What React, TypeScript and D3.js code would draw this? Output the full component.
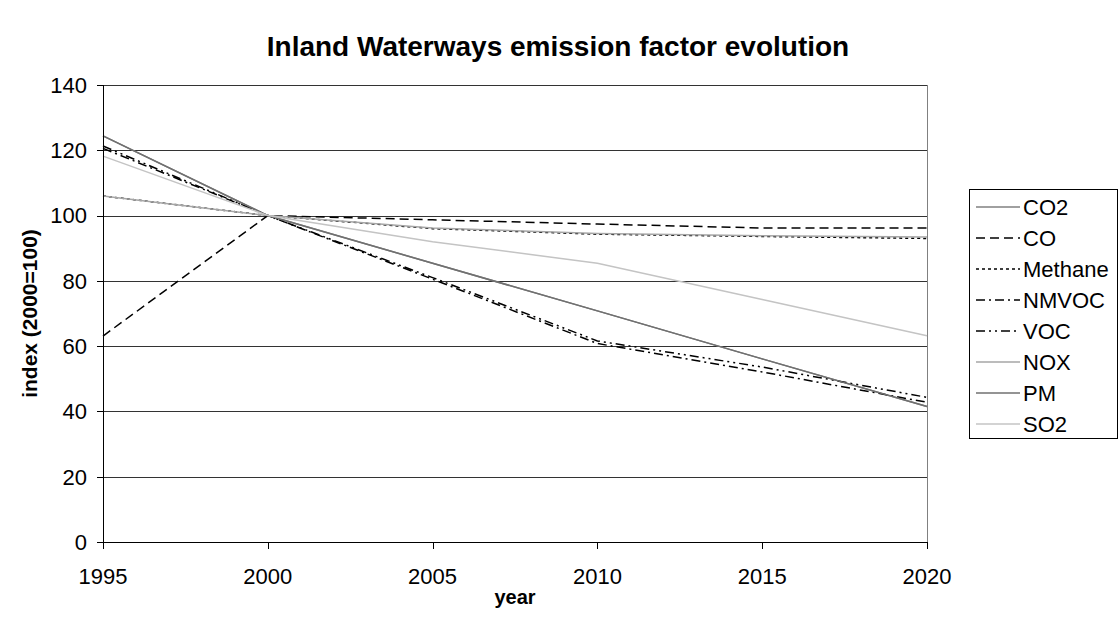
import React from "react";
import * as d3 from "d3";

// Emission factor index per pollutant, 2000 = 100
const years = [1995, 2000, 2005, 2010, 2015, 2020];
const co2 = [124.4, 100, 85.4, 70.8, 56.1, 41.5];
const co = [63.1, 100, 98.7, 97.4, 96.2, 96.2];
const methane = [106, 100, 96, 94.3, 93.6, 93.0];
const nmvoc = [120.6, 100, 80.5, 60.8, 52.1, 42.8];
const voc = [121.3, 100, 81, 61.6, 53.6, 44.3];
const nox = [106, 100, 96.2, 94.5, 93.8, 93.4];
const pm = [124.4, 100, 85.4, 70.8, 56.1, 41.5];
const so2 = [118.2, 100, 92, 85.4, 74.3, 63.2];

const seriesNames = ["CO2", "CO", "Methane", "NMVOC", "VOC", "NOX", "PM", "SO2"];
const seriesValues = [co2, co, methane, nmvoc, voc, nox, pm, so2];
const yTicks = [0, 20, 40, 60, 80, 100, 120, 140];

const styles = [
  { stroke: "#808080", dash: "" },
  { stroke: "#000000", dash: "9,5" },
  { stroke: "#000000", dash: "3,3" },
  { stroke: "#000000", dash: "9,4,2,4" },
  { stroke: "#000000", dash: "9,4,2,4,2,4" },
  { stroke: "#a6a6a6", dash: "" },
  { stroke: "#707070", dash: "" },
  { stroke: "#c4c4c4", dash: "" },
];

const W = 1118;
const H = 626;
const plot = { left: 103, right: 927, top: 85, bottom: 542 };
const font = "'Liberation Sans', Arial, sans-serif";

export default function App() {
  const x = d3.scaleLinear().domain([1995, 2020]).range([plot.left, plot.right]);
  const y = d3.scaleLinear().domain([0, 140]).range([plot.bottom, plot.top]);
  const line = d3
    .line<number>()
    .x((_, i) => x(years[i]))
    .y((d) => y(d));

  const legend = { x: 969, y: 189, w: 148, h: 249, row: 31 };

  return (
    <svg
      width={W}
      height={H}
      style={{ position: "absolute", left: 0, top: 0, background: "#fff" }}
      fontFamily={font}
    >
      <rect x={0} y={0} width={W} height={H} fill="#fff" />
      <text x={558} y={56} textAnchor="middle" fontSize={28} fontWeight="bold">
        Inland Waterways emission factor evolution
      </text>

      {/* gridlines */}
      {yTicks.map((t) => (
        <line
          key={t}
          x1={plot.left}
          x2={plot.right}
          y1={Math.round(y(t)) + 0.5}
          y2={Math.round(y(t)) + 0.5}
          stroke="#333"
          strokeWidth={1}
        />
      ))}
      <line
        x1={plot.right + 0.5}
        x2={plot.right + 0.5}
        y1={plot.top}
        y2={plot.bottom}
        stroke="#808080"
      />

      {/* series */}
      {seriesValues.map((vals, i) => (
        <path
          key={seriesNames[i]}
          d={line(vals) || ""}
          fill="none"
          stroke={styles[i].stroke}
          strokeWidth={1.5}
          strokeDasharray={styles[i].dash || undefined}
        />
      ))}

      {/* axes */}
      <line x1={plot.left + 0.5} x2={plot.left + 0.5} y1={plot.top} y2={plot.bottom + 6} stroke="#000" />
      <line x1={plot.left - 6} x2={plot.right} y1={Math.round(y(0)) + 0.5} y2={Math.round(y(0)) + 0.5} stroke="#000" />
      {yTicks.map((t) => (
        <g key={"yt" + t}>
          <line
            x1={plot.left - 6}
            x2={plot.left}
            y1={Math.round(y(t)) + 0.5}
            y2={Math.round(y(t)) + 0.5}
            stroke="#000"
          />
          <text x={87} y={y(t)} dy="0.36em" textAnchor="end" fontSize={22}>
            {t}
          </text>
        </g>
      ))}
      {years.map((yr) => (
        <g key={"xt" + yr}>
          <line
            x1={Math.round(x(yr)) + 0.5}
            x2={Math.round(x(yr)) + 0.5}
            y1={plot.bottom}
            y2={plot.bottom + 7}
            stroke="#000"
          />
          <text x={x(yr)} y={584} textAnchor="middle" fontSize={22}>
            {yr}
          </text>
        </g>
      ))}

      <text x={515} y={604} textAnchor="middle" fontSize={20} fontWeight="bold">
        year
      </text>
      <text
        transform={`translate(37, ${(plot.top + plot.bottom) / 2}) rotate(-90)`}
        textAnchor="middle"
        fontSize={21}
        fontWeight="bold"
      >
        index (2000=100)
      </text>

      {/* legend */}
      <rect
        x={legend.x + 0.5}
        y={legend.y + 0.5}
        width={legend.w}
        height={legend.h}
        fill="#fff"
        stroke="#000"
      />
      {seriesNames.map((name, i) => {
        const cy = 207 + i * legend.row;
        return (
          <g key={"lg" + name}>
            <line
              x1={976}
              x2={1020}
              y1={cy}
              y2={cy}
              stroke={styles[i].stroke}
              strokeWidth={1.5}
              strokeDasharray={styles[i].dash || undefined}
            />
            <text x={1023} y={cy} dy="0.36em" fontSize={22}>
              {name}
            </text>
          </g>
        );
      })}
    </svg>
  );
}
